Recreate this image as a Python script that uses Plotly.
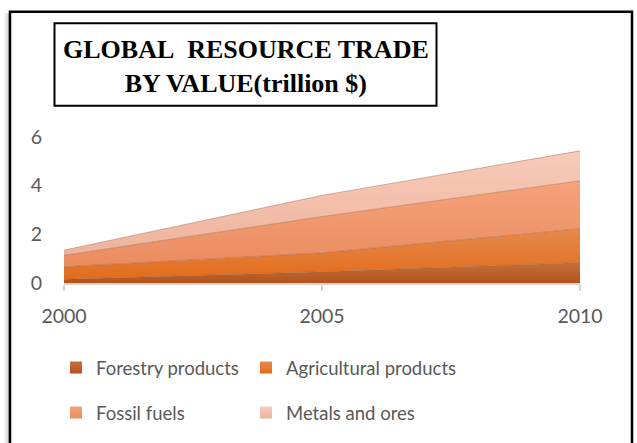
import plotly.graph_objects as go

years = [2000, 2005, 2010]
forestry = [0.15, 0.46, 0.84]
agricultural = [0.52, 0.78, 1.39]
fossil = [0.47, 1.49, 1.97]
metals = [0.21, 0.87, 1.23]
series_names = ["Forestry products", "Agricultural products", "Fossil fuels", "Metals and ores"]
y_ticks = [0, 2, 4, 6]
x_ticks = [2000, 2005, 2010]

# (bottom color, top color) for each series
colors = [("#b3531b", "#c4703f"), ("#e26c1c", "#e68a4c"), ("#ea8c60", "#f6a27a"), ("#efb39c", "#f8cbbb")]
values = [forestry, agricultural, fossil, metals]

W, H = 637, 443
L, R, T, B = 64, 57, 137, 159
pw, ph = W - L - R, H - T - B

def px(x):
    return (x - L) / pw

def py(y):
    return (H - B - y) / ph

fig = go.Figure()
for name, vals, (c0, c1) in zip(series_names, values, colors):
    fig.add_trace(go.Scatter(
        x=years, y=vals, name=name, stackgroup="one", mode="lines",
        line=dict(width=0.8, color="rgba(150,90,60,0.55)"),
        fillgradient=dict(type="vertical", colorscale=[[0, c0], [1, c1]]),
        showlegend=False, hoverinfo="skip",
    ))

legend_ids = ["legend", "legend2", "legend3", "legend4"]
legend_pos = [(56, 368), (246, 368), (56, 413), (246, 413)]
for name, (c0, c1), lg in zip(series_names, colors, legend_ids):
    fig.add_trace(go.Scatter(
        x=[None], y=[None], mode="markers", name=name, legend=lg,
        marker=dict(symbol="square", size=12, color=c1,
                    gradient=dict(type="vertical", color=c0),
                    line=dict(width=0)),
    ))

legend_common = dict(orientation="h", traceorder="normal",
                     font=dict(family="Lato", size=18.5, color="#595959"),
                     xanchor="left", yanchor="middle", bgcolor="rgba(0,0,0,0)")
legends = {lg: dict(x=px(lx), y=py(ly), **legend_common)
           for lg, (lx, ly) in zip(legend_ids, legend_pos)}

fig.update_layout(
    width=W, height=H,
    margin=dict(l=L, r=R, t=T, b=B),
    paper_bgcolor="white", plot_bgcolor="white",
    font=dict(family="Lato", size=19, color="#595959"),
    xaxis=dict(range=[2000, 2010], tickvals=x_ticks, ticktext=[str(v) for v in x_ticks],
               showgrid=False, zeroline=False, showline=True, linecolor="#d4d4d4", linewidth=2,
               ticks="outside", ticklen=6, tickcolor="#d4d4d4", tickwidth=2,
               ticklabelstandoff=9, tickfont=dict(family="Lato", size=19.5, color="#595959")),
    yaxis=dict(range=[0, 6], tickvals=y_ticks, showgrid=False, zeroline=False, showline=False,
               ticklabelstandoff=21, tickfont=dict(family="Lato", size=19.5, color="#595959")),
    showlegend=True,
    **legends,
)

# outer frame with soft shadow on the left
for i, op in enumerate([0.05, 0.08, 0.12]):
    off = 6 - 2 * i
    fig.add_shape(type="rect", xref="paper", yref="paper",
                  x0=px(10 - off), x1=px(12), y0=py(460), y1=py(11 + off * 0.3),
                  line=dict(width=0), fillcolor=f"rgba(0,0,0,{op})", layer="below")
fig.add_shape(type="rect", xref="paper", yref="paper",
              x0=px(10), x1=px(632), y0=py(460), y1=py(11),
              line=dict(width=2.5, color="black"), fillcolor="white", layer="below")

# title box
fig.add_shape(type="rect", xref="paper", yref="paper",
              x0=px(54.5), x1=px(436.5), y0=py(105.5), y1=py(22.5),
              line=dict(width=2, color="black"), fillcolor="white")
fig.add_annotation(xref="paper", yref="paper", x=px(245.5), y=py(66), showarrow=False,
                   text="GLOBAL\u00a0\u00a0RESOURCE TRADE<br>BY VALUE(trillion $)",
                   font=dict(family="Liberation Serif", size=26, color="black", weight="bold"),
                   align="center", xanchor="center", yanchor="middle")

fig.write_html("out.html")
